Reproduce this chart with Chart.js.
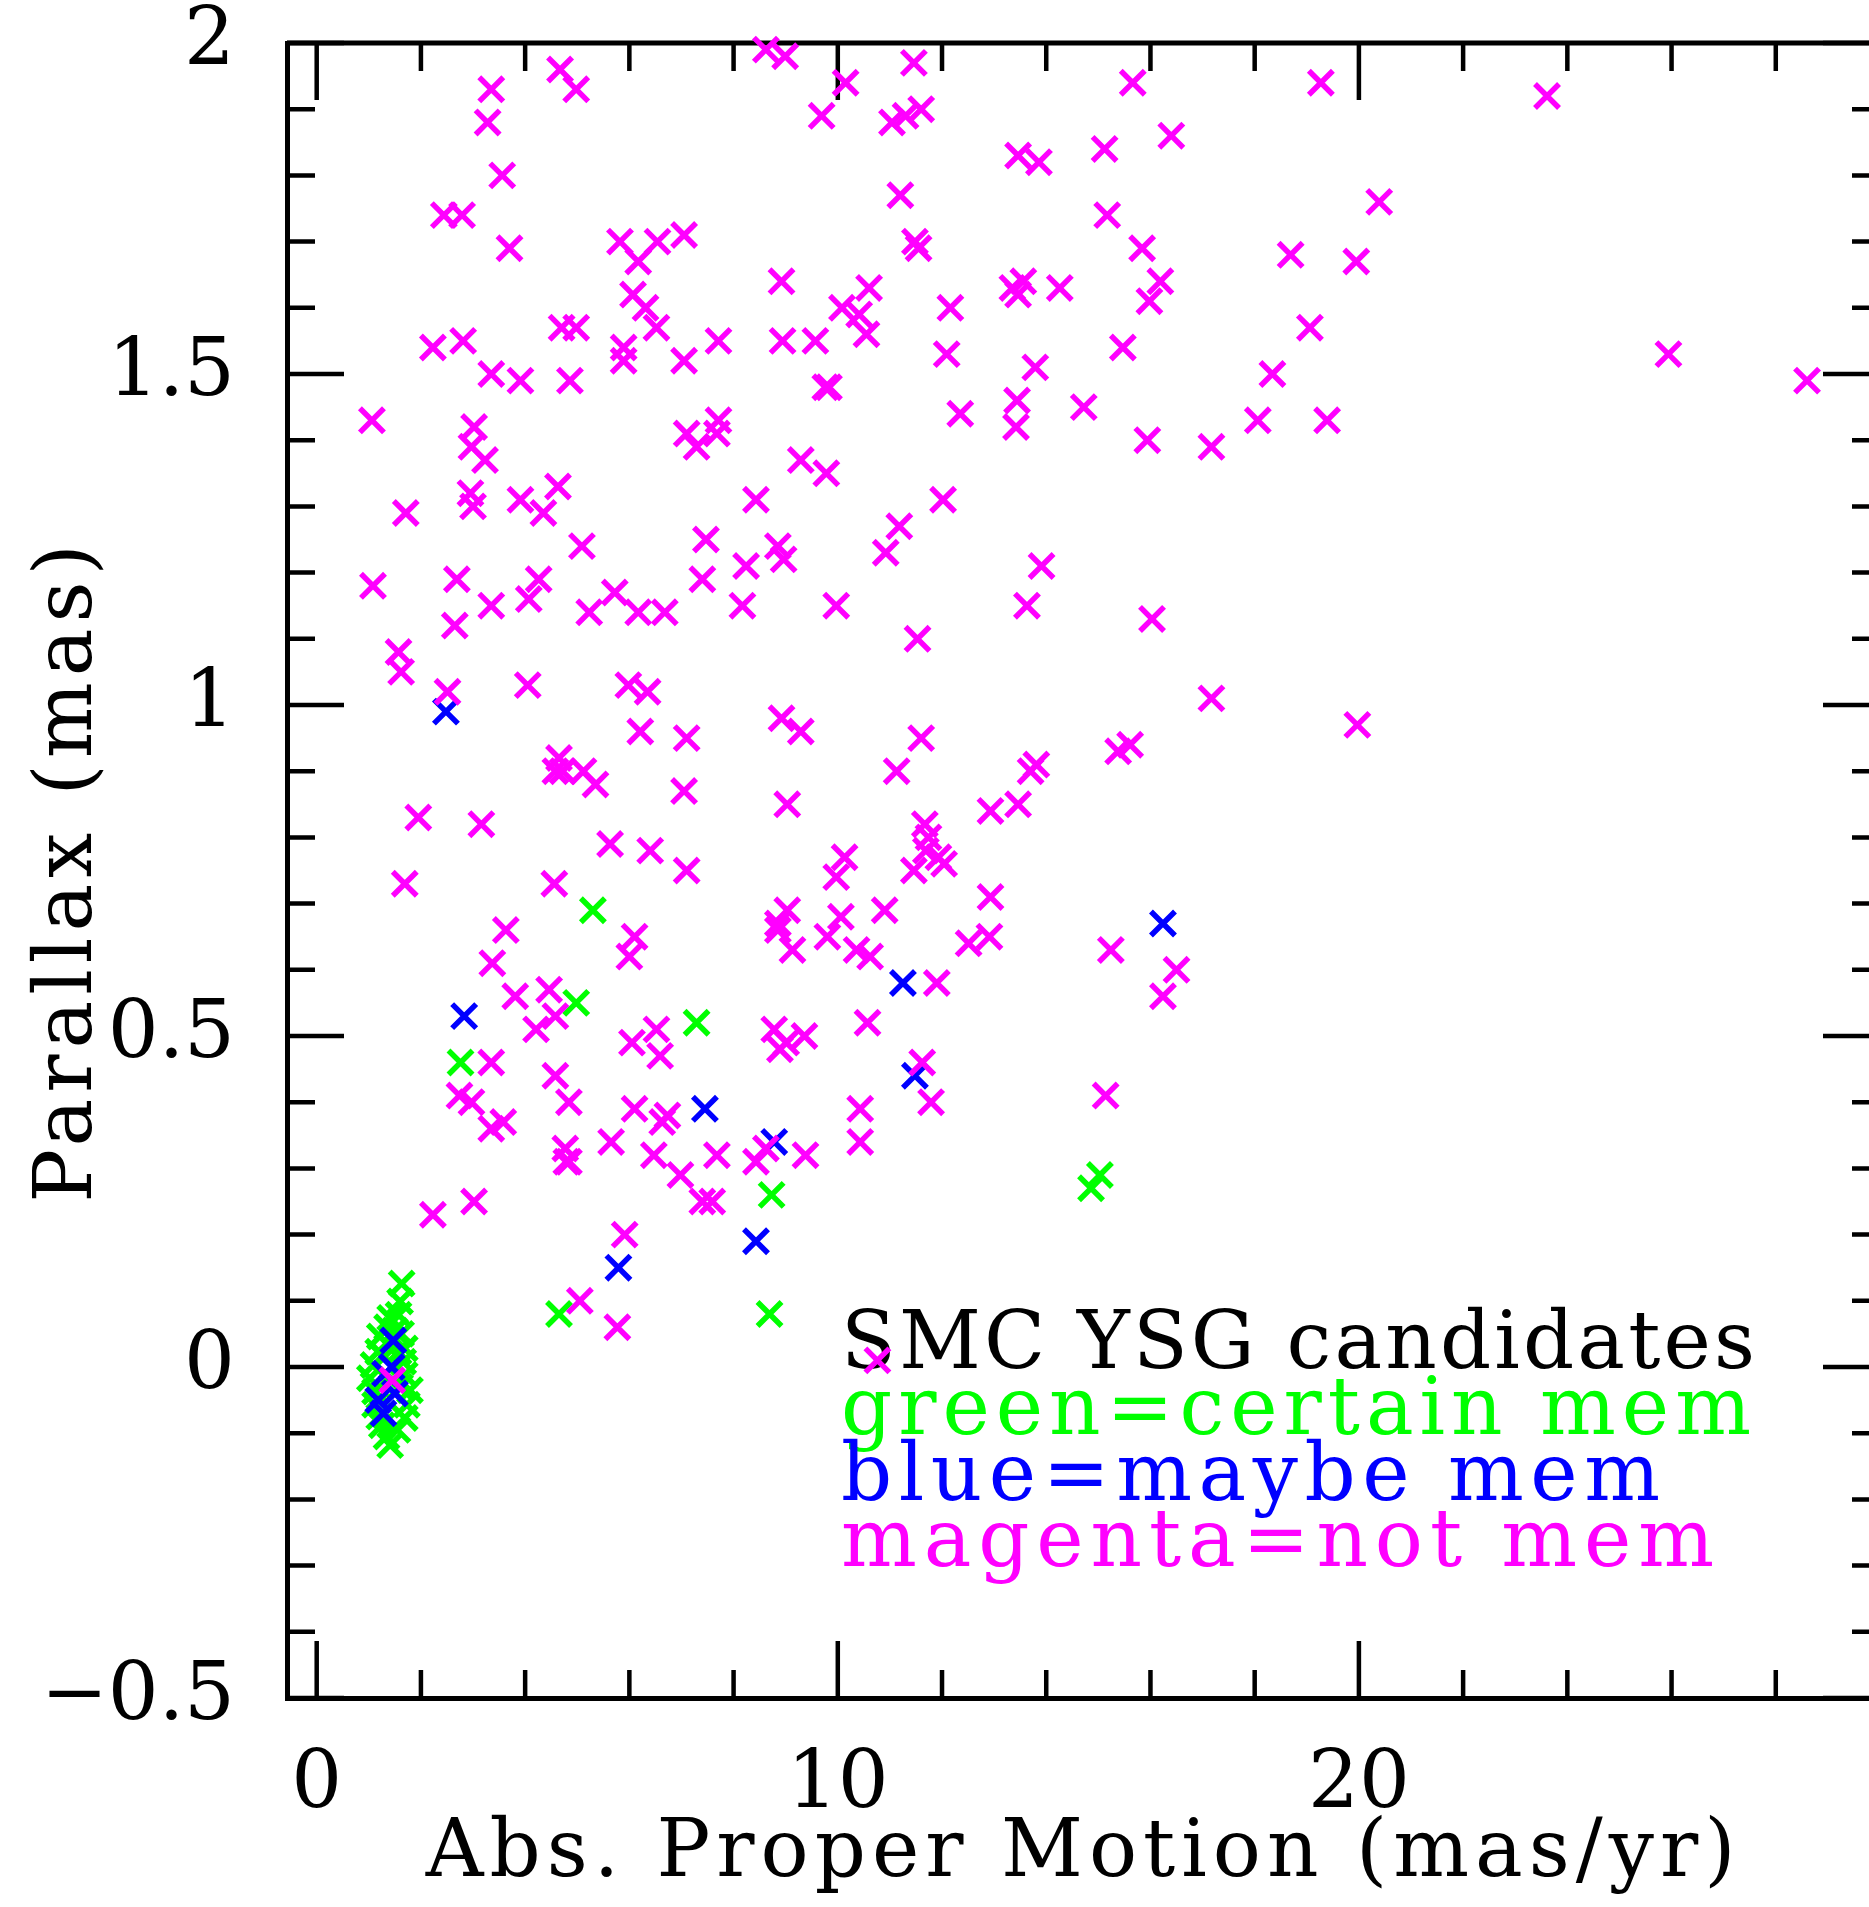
<!DOCTYPE html>
<html lang="en">
<head>
<meta charset="utf-8">
<title>SMC YSG candidates</title>
<script src="https://cdn.jsdelivr.net/npm/chart.js@4.4.1/dist/chart.umd.min.js"></script>
<style>
  html, body { margin: 0; padding: 0; background: #fff; overflow: hidden; }
  #graficoParalaxe { display: block; }
</style>
</head>
<body>
<canvas id="graficoParalaxe" width="1905" height="1907"></canvas>
<script>
// pontos: [movimento proprio (mas/yr), paralaxe (mas)]
const naoMembros = [
  [8.62,1.99],[8.99,1.98],[4.67,1.96],[4.98,1.93],[3.35,1.93],[11.46,1.97],[10.15,1.94],[3.28,1.88],
  [9.69,1.89],[11.04,1.88],[11.30,1.89],[11.60,1.90],[19.27,1.94],[15.66,1.94],[23.61,1.92],[16.40,1.86],
  [15.12,1.84],[3.56,1.80],[11.20,1.77],[13.46,1.83],[13.86,1.82],[20.39,1.76],[2.44,1.74],[2.79,1.74],
  [3.70,1.69],[7.05,1.71],[5.82,1.70],[6.54,1.70],[11.48,1.70],[11.55,1.69],[15.17,1.74],[15.84,1.69],
  [6.17,1.67],[18.69,1.68],[19.95,1.67],[8.92,1.64],[10.60,1.63],[13.35,1.63],[13.56,1.64],[13.46,1.62],
  [14.26,1.63],[16.19,1.64],[15.98,1.61],[6.07,1.62],[6.31,1.60],[6.52,1.57],[10.08,1.60],[10.41,1.59],
  [10.55,1.56],[12.16,1.60],[19.06,1.57],[2.23,1.54],[2.81,1.55],[9.57,1.55],[15.47,1.54],[12.09,1.53],
  [7.71,1.55],[5.89,1.54],[5.89,1.52],[7.05,1.52],[18.34,1.50],[25.94,1.53],[4.98,1.57],[4.70,1.57],
  [3.35,1.50],[3.91,1.49],[4.86,1.49],[13.79,1.51],[28.60,1.49],[1.06,1.43],[12.35,1.44],[14.72,1.45],
  [19.39,1.43],[18.06,1.43],[13.44,1.46],[13.42,1.42],[9.76,1.48],[9.83,1.48],[8.94,1.55],[3.02,1.42],
  [2.97,1.39],[3.23,1.37],[15.94,1.40],[17.17,1.39],[7.10,1.41],[7.29,1.39],[7.71,1.43],[7.68,1.41],
  [9.29,1.37],[9.78,1.35],[12.02,1.31],[11.18,1.27],[10.92,1.23],[8.43,1.31],[4.63,1.33],[4.35,1.29],
  [3.91,1.31],[2.95,1.32],[3.00,1.30],[5.09,1.24],[1.08,1.18],[1.71,1.29],[2.69,1.19],[2.65,1.12],
  [3.35,1.15],[4.07,1.16],[4.26,1.19],[5.23,1.14],[5.72,1.17],[6.17,1.14],[6.68,1.14],[7.47,1.25],
  [7.40,1.19],[8.17,1.15],[8.24,1.21],[8.85,1.24],[8.96,1.22],[9.97,1.15],[13.63,1.15],[13.91,1.21],
  [16.03,1.13],[11.53,1.10],[1.57,1.08],[1.62,1.05],[2.51,1.02],[4.05,1.03],[5.98,1.03],[6.35,1.02],
  [6.21,0.96],[7.10,0.95],[4.65,0.92],[4.72,0.90],[4.58,0.90],[5.12,0.90],[5.35,0.88],[8.92,0.98],
  [9.29,0.96],[11.13,0.90],[11.60,0.95],[13.81,0.91],[13.70,0.90],[15.38,0.93],[15.61,0.94],[17.17,1.01],
  [19.97,0.97],[7.05,0.87],[9.03,0.85],[1.95,0.83],[3.16,0.82],[5.63,0.79],[6.40,0.78],[10.13,0.77],
  [9.97,0.74],[11.67,0.82],[11.74,0.80],[11.69,0.78],[11.93,0.77],[12.04,0.76],[11.46,0.75],[12.93,0.84],
  [13.46,0.85],[1.69,0.73],[4.56,0.73],[7.10,0.75],[10.90,0.69],[10.06,0.68],[8.85,0.67],[9.03,0.69],
  [8.85,0.66],[9.13,0.63],[9.80,0.65],[10.36,0.63],[10.62,0.62],[12.51,0.64],[12.93,0.71],[12.91,0.65],
  [3.63,0.66],[3.37,0.61],[6.10,0.65],[6.00,0.62],[15.24,0.63],[16.50,0.60],[16.24,0.56],[11.90,0.58],
  [3.81,0.56],[4.46,0.57],[4.58,0.53],[4.21,0.51],[4.58,0.44],[4.84,0.40],[6.05,0.49],[6.52,0.51],
  [6.59,0.47],[8.78,0.51],[8.89,0.48],[9.01,0.49],[9.36,0.50],[10.57,0.52],[2.74,0.41],[2.97,0.40],
  [3.35,0.46],[3.35,0.36],[3.58,0.37],[6.10,0.39],[6.73,0.38],[6.63,0.37],[6.98,0.29],[6.47,0.32],
  [5.65,0.34],[4.77,0.33],[4.84,0.31],[4.79,0.31],[7.68,0.32],[7.40,0.25],[7.59,0.25],[8.43,0.31],
  [8.62,0.33],[9.38,0.32],[10.43,0.39],[10.43,0.34],[11.62,0.46],[11.79,0.40],[15.14,0.41],[3.02,0.25],
  [2.23,0.23],[5.91,0.20],[5.05,0.10],[5.77,0.06],[10.76,0.01],[1.45,-0.02]
];

const membrosTalvez = [
  [2.48,0.99],[2.83,0.53],[7.45,0.39],[8.78,0.34],[8.43,0.19],[5.79,0.15],[11.25,0.58],[11.48,0.44],
  [16.24,0.67],[1.47,0.04],[1.31,-0.01],[1.44,0.00],[1.50,-0.04],[1.28,-0.07],[1.18,-0.05]
];

const membrosCertos = [
  [5.30,0.69],[4.98,0.55],[7.29,0.52],[2.76,0.46],[8.73,0.26],[14.86,0.27],[15.03,0.29],[4.65,0.08],
  [8.69,0.08],[1.63,0.126],[1.60,0.099],[1.41,0.074],[1.57,0.079],[1.21,0.046],[1.69,0.028],[1.18,0.023],
  [1.12,-0.037],[1.02,-0.017],[1.69,-0.012],[1.73,-0.057],[1.69,-0.077],[1.25,-0.088],[1.34,-0.105],
  [1.41,-0.118],[1.12,-0.057],[1.66,0.008],[1.09,0.003],[1.79,-0.035],[1.57,0.023],[1.50,0.055],
  [1.35,0.06],[1.55,-0.095],[1.30,0.015],[1.60,-0.03],[1.20,-0.075],[1.62,0.05]
];

const ticksX = [0, 10, 20];
const ticksY = [-0.5, 0, 0.5, 1, 1.5, 2];
const tituloX = 'Abs. Proper Motion (mas/yr)';
const tituloY = 'Parallax (mas)';
const legendaTextos = ['SMC YSG candidates', 'green=certain mem', 'blue=maybe mem', 'magenta=not mem'];
const legendaCores = ['#000000', '#00ff00', '#0000ff', '#ff00ff'];

const FONTE = '"DejaVu Serif", serif';

function paraPontos(lista) {
  return lista.map(([x, y]) => ({ x, y }));
}

// espacamento das letras so nos titulos dos eixos (rotulos dos ticks ficam em z 1)
const espacamentoTitulos = {
  id: 'espacamentoTitulos',
  beforeDraw(chart) { chart.ctx.letterSpacing = '6px'; },
  beforeDatasetsDraw(chart) { chart.ctx.letterSpacing = '0px'; }
};

// moldura de cima/direita e ticks para dentro nos quatro lados
const molduraTicks = {
  id: 'molduraTicks',
  beforeDatasetsDraw(chart) {
    const { ctx, chartArea: a, scales: { x, y } } = chart;
    ctx.save();
    ctx.strokeStyle = '#000';
    ctx.lineCap = 'butt';
    ctx.lineWidth = 5;
    ctx.beginPath();
    ctx.moveTo(a.left, a.top);
    ctx.lineTo(a.right, a.top);
    ctx.lineTo(a.right, a.bottom);
    ctx.stroke();

    ctx.lineWidth = 4.5;
    ctx.beginPath();
    for (let v = 0; v <= 30; v += 2) {
      const px = x.getPixelForValue(v);
      const len = v % 10 === 0 ? 57 : 28;
      ctx.moveTo(px, a.bottom); ctx.lineTo(px, a.bottom - len);
      ctx.moveTo(px, a.top); ctx.lineTo(px, a.top + len);
    }
    for (let i = -5; i <= 20; i++) {
      const py = y.getPixelForValue(i / 10);
      const len = i % 5 === 0 ? 57 : 28;
      ctx.moveTo(a.left, py); ctx.lineTo(a.left + len, py);
      ctx.moveTo(a.right, py); ctx.lineTo(a.right - len, py);
    }
    ctx.stroke();
    ctx.restore();
  }
};

// legenda escrita dentro do grafico
const legendaTexto = {
  id: 'legendaTexto',
  beforeDatasetsDraw(chart) {
    const ctx = chart.ctx;
    const larguras = [914, 910, 819, 873];
    ctx.save();
    ctx.font = '80px ' + FONTE;
    ctx.textAlign = 'left';
    ctx.textBaseline = 'alphabetic';
    legendaTextos.forEach((txt, i) => {
      ctx.letterSpacing = '0px';
      const medida = ctx.measureText(txt).width;
      ctx.letterSpacing = ((larguras[i] - medida) / (txt.length - 1)) + 'px';
      ctx.fillStyle = legendaCores[i];
      ctx.fillText(txt, 841, 1368 + i * 66);
    });
    ctx.restore();
  }
};

const fonteEixo = { family: FONTE, size: 80 };

new Chart(document.getElementById('graficoParalaxe'), {
  type: 'scatter',
  data: {
    datasets: [
      { label: 'magenta=not mem', data: paraPontos(naoMembros), borderColor: '#ff00ff', backgroundColor: '#ff00ff' },
      { label: 'blue=maybe mem', data: paraPontos(membrosTalvez), borderColor: '#0000ff', backgroundColor: '#0000ff' },
      { label: 'green=certain mem', data: paraPontos(membrosCertos), borderColor: '#00ff00', backgroundColor: '#00ff00' }
    ]
  },
  options: {
    responsive: false,
    animation: false,
    devicePixelRatio: 1,
    // a margem direita cobre o tamanho dos marcadores; o eixo da direita fica em x = 1880, fora da janela
    layout: { padding: { top: 43, right: 25, left: 0, bottom: 0 } },
    elements: { point: { pointStyle: 'crossRot', radius: 17, hoverRadius: 17, borderWidth: 5.5 } },
    datasets: { scatter: { clip: false } },
    plugins: { legend: { display: false }, tooltip: { enabled: false } },
    scales: {
      x: {
        type: 'linear',
        min: -0.57,
        max: 30,
        afterBuildTicks: s => { s.ticks = ticksX.map(v => ({ value: v })); },
        afterFit: s => { s.height = 209; s.paddingLeft = 0; s.paddingRight = 0; },
        grid: { display: false },
        border: { display: true, color: '#000', width: 5 },
        ticks: { z: 1, padding: 32, color: '#000', font: fonteEixo, maxRotation: 0 },
        title: { display: true, text: tituloX, color: '#000', font: fonteEixo, padding: { top: 0, bottom: 4 } }
      },
      y: {
        type: 'linear',
        min: -0.5,
        max: 2,
        afterBuildTicks: s => { s.ticks = ticksY.map(v => ({ value: v })); },
        afterFit: s => { s.width = 287; s.paddingTop = 0; s.paddingBottom = 0; },
        grid: { display: false },
        border: { display: true, color: '#000', width: 5 },
        ticks: {
          z: 1, padding: 44, color: '#000', font: fonteEixo,
          callback: v => v < 0 ? '\u2212' + Math.abs(v) : String(v)
        },
        title: { display: true, text: tituloY, color: '#000', font: fonteEixo, padding: { top: 22, bottom: 0 } }
      }
    }
  },
  plugins: [espacamentoTitulos, molduraTicks, legendaTexto]
});
</script>
</body>
</html>
